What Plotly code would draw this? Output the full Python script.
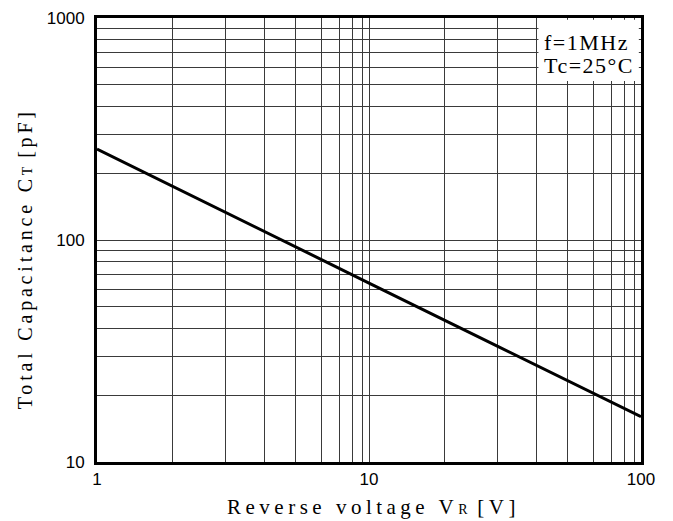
import plotly.graph_objects as go

voltage = [1, 3, 10, 30, 100]
capacitance = [257, 132, 64, 33, 16]

x_ticks = [1, 10, 100]
x_tick_text = ["1", "10", "100"]
y_ticks = [10, 100, 1000]
y_tick_text = ["10", "100", "1000"]
# minor grid lines, placed where the drawn (hand-ruled) grid sits
x_minor = [1.90, 2.96, 4.13, 5.39, 6.69, 7.76, 8.70, 9.43,
           19.0, 29.6, 41.3, 53.9, 66.9, 77.6, 87.0, 94.3]
y_minor = [20, 30, 40, 50, 60, 70, 80, 90, 200, 300, 400, 500, 600, 700, 800, 900]

serif = "Liberation Serif"
lsx = "letter-spacing:4.5px"
lsy = "letter-spacing:3.8px"
lsl = "letter-spacing:1.5px"
grid = "#3a3a3a"
fig = go.Figure()
fig.add_trace(go.Scatter(x=voltage, y=capacitance, mode="lines",
                         line=dict(color="black", width=3), showlegend=False))

fig.add_shape(type="rect", xref="x domain", yref="y domain",
              x0=0.8115, x1=0.996, y0=0.858, y1=0.996,
              fillcolor="white", line=dict(width=0), layer="above")
fig.add_annotation(xref="x domain", yref="y domain", x=0.818, y=0.9437,
                   xanchor="left", yanchor="middle", showarrow=False,
                   text=f"<span style='{lsl}'>f=1MHz</span>",
                   font=dict(family=serif, size=22, color="black"))
fig.add_annotation(xref="x domain", yref="y domain", x=0.818, y=0.894,
                   xanchor="left", yanchor="middle", showarrow=False,
                   text=f"<span style='{lsl}'>Tc=25°C</span>",
                   font=dict(family=serif, size=22, color="black"))

axis_common = dict(type="log", showline=True, linecolor="black", linewidth=3, mirror=True,
                   showgrid=True, gridcolor=grid, gridwidth=1, ticks="",
                   tickfont=dict(family="Liberation Sans", size=17, color="black"),
                   zeroline=False, automargin=False)
fig.update_xaxes(**axis_common, range=[0, 2], tickvals=x_ticks, ticktext=x_tick_text,
                 minor=dict(tickvals=x_minor, showgrid=True, gridcolor=grid, gridwidth=1))
fig.update_yaxes(**axis_common, range=[1, 3], tickvals=y_ticks, ticktext=y_tick_text,
                 ticklabelstandoff=6,
                 minor=dict(tickvals=y_minor, showgrid=True, gridcolor=grid, gridwidth=1))

# axis titles as paper annotations for exact placement
fig.add_annotation(xref="paper", yref="paper", x=0.509, y=-0.101,
                   xanchor="center", yanchor="middle", showarrow=False,
                   text=f"<span style='{lsx}'>Reverse voltage V</span><span style='font-size:14px'>R</span><span style='{lsx}'> [V]</span>",
                   font=dict(family=serif, size=21, color="black"))
fig.add_annotation(xref="paper", yref="paper", x=-0.132, y=0.457,
                   xanchor="center", yanchor="middle", showarrow=False, textangle=-90,
                   text=f"<span style='{lsy}'>Total Capacitance C</span><span style='font-size:14px'>T</span><span style='{lsy}'> [pF]</span>",
                   font=dict(family=serif, size=20, color="black"))
fig.update_layout(width=673, height=521, margin=dict(l=89, r=40, t=10, b=67),
                  plot_bgcolor="white", paper_bgcolor="white")
fig.write_html("out.html")
